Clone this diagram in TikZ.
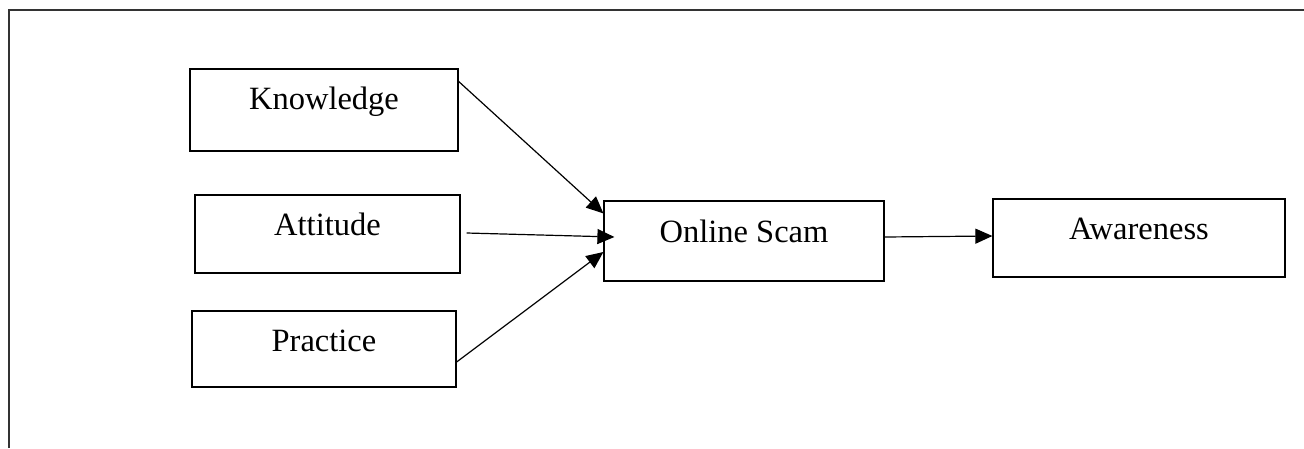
\documentclass[tikz,border=0pt]{standalone}
\usepackage{fontspec}
\setmainfont{Liberation Serif}
\usetikzlibrary{arrows.meta}
\begin{document}
\begin{tikzpicture}[x=1pt,y=-1pt,
  box/.style={draw=black,line width=1.2pt,rectangle,inner sep=0pt,
    font=\fontsize{32.5}{38}\selectfont},
  conn/.style={draw=black,line width=1.2pt,-{Triangle[length=17pt,width=15pt]}},
  frameline/.style={draw=black!80,line width=1.8pt}]
\useasboundingbox (0,0) rectangle (1304,448);
\draw[frameline] (9,448) -- (9,10) -- (1304,10);
\node[box,minimum width=268pt,text height=40pt,text depth=42pt] (k) at (324,110) {Knowledge};
\node[box,minimum width=265pt,text height=40pt,text depth=38pt] (a) at (327.5,234) {Attitude};
\node[box,minimum width=264pt,text height=40pt,text depth=36pt] (p) at (324,349) {Practice};
\node[box,minimum width=280pt,text height=41pt,text depth=39pt] (s) at (744,241) {Online Scam};
\node[box,minimum width=292pt,text height=40pt,text depth=38pt] (w) at (1139,238) {Awareness};
\draw[conn] ([yshift=-13pt]k.north east) -- ([yshift=-13pt]s.north west);
\draw[conn] ([xshift=6pt,yshift=1pt]a.east) -- ([xshift=11pt,yshift=4pt]s.west);
\draw[conn] ([yshift=-13pt]p.east) -- ([yshift=-11pt]s.west);
\draw[conn] ([yshift=4pt]s.east) -- ([yshift=2pt]w.west);
\end{tikzpicture}
\end{document}
